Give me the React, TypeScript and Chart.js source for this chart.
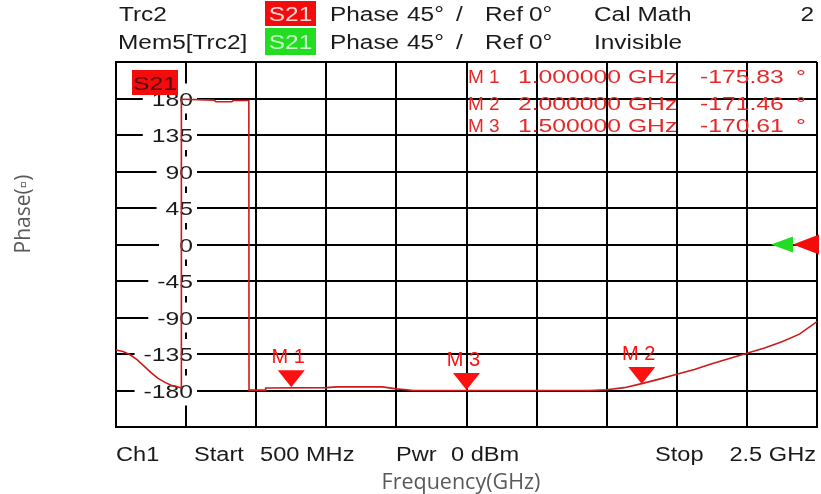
import React, { useEffect, useRef } from 'react';
import { Chart, registerables } from 'chart.js';

Chart.register(...registerables);

// ---------------- data ----------------
const freqGHz = [
  0.5, 0.52, 0.54, 0.56, 0.58, 0.6, 0.62, 0.64, 0.66, 0.68, 0.6855, 0.6865, 0.69,
  0.78, 0.785, 0.83, 0.835, 0.879, 0.8795, 0.926, 0.927, 1.1, 1.13, 1.26, 1.3,
  1.35, 1.5, 1.65, 1.8, 1.85, 1.9, 1.95, 2.0, 2.05, 2.1, 2.15, 2.2, 2.25, 2.3,
  2.35, 2.4, 2.45, 2.5,
];
const phaseDeg = [
  -130, -132, -136, -142, -150, -158, -165, -170, -174, -176, -177, 179, 179,
  178, 176, 176, 177.5, 177.5, -179.5, -179.5, -177, -176.5, -175.5, -175.5, -178,
  -180, -180, -180, -180, -180, -179, -176.5, -171.5, -166, -160, -154, -147, -140.5, -134,
  -127.5, -120, -110.5, -95,
];

const yTickLabels = [180, 135, 90, 45, 0, -45, -90, -135, -180];

const markerNames = ['M 1', 'M 2', 'M 3'];
const markerFreqGHz = [1.0, 2.0, 1.5];
const markerFreqText = ['1.000000 GHz', '2.000000 GHz', '1.500000 GHz'];
const markerReadoutDeg = ['-175.83', '-171.46', '-170.61'];
const markerTipDeg = [-176, -172, -179.5];

const refLevelDeg = 0;

const headerRow1 = ['Trc2', 'S21', 'Phase', '45°', '/', 'Ref', '0°', 'Cal Math', '2'];
const headerRow2 = ['Mem5[Trc2]', 'S21', 'Phase', '45°', '/', 'Ref', '0°', 'Invisible'];
const footerTexts = ['Ch1', 'Start', '500 MHz', 'Pwr', '0 dBm', 'Stop', '2.5 GHz'];
const yAxisTitle = 'Phase(▫)';
const xAxisTitle = 'Frequency(GHz)';

// ---------------- styles ----------------
const VNA_FONT = '"Liberation Sans", Arial, sans-serif';
const OUT_FONT = '"Open Sans", "Noto Sans", sans-serif';
const TRACE = '#cc1a1a';
const MARK = '#ff1010';
const READ = '#e62828';
const BOX_RED = '#f20c0c';
const BOX_GREEN = '#22dd22';
const INK = '#1a1a1a';
const HDR_SIZE = 20;
const HDR_SX = 1.22;

function txt(
  ctx: CanvasRenderingContext2D,
  text: string,
  x: number,
  y: number,
  size: number,
  color: string,
  align: 'left' | 'right' | 'center' = 'left',
  sx = 1,
  font = VNA_FONT,
) {
  ctx.save();
  ctx.font = `${size}px ${font}`;
  ctx.fillStyle = color;
  ctx.textBaseline = 'alphabetic';
  ctx.textAlign = 'left';
  const w = ctx.measureText(text).width * sx;
  let left = x;
  if (align === 'right') left = x - w;
  else if (align === 'center') left = x - w / 2;
  ctx.translate(left, y);
  ctx.scale(sx, 1);
  ctx.fillText(text, 0, 0);
  ctx.restore();
  return w;
}

const vnaPlugin = {
  id: 'vna',
  beforeDatasetsDraw(chart: any) {
    const ctx: CanvasRenderingContext2D = chart.ctx;
    const ys = chart.scales.y;
    const ca = chart.chartArea;
    const right = ca.left + 77;
    const boxRight = ca.left + 81;
    ctx.save();
    ctx.font = `19px ${VNA_FONT}`;
    for (const v of yTickLabels) {
      const py = ys.getPixelForValue(v);
      const label = String(v);
      const w = ctx.measureText(label).width * 1.3;
      const boxL = Math.min(right - w - 9, boxRight - 38);
      ctx.fillStyle = '#ffffff';
      ctx.fillRect(boxL, py - 15, boxRight - boxL, 30);
      txt(ctx, label, right, py + 7, 19, INK, 'right', 1.3);
    }
    ctx.restore();
  },
  afterDatasetsDraw(chart: any) {
    const ctx: CanvasRenderingContext2D = chart.ctx;
    const xs = chart.scales.x;
    const ys = chart.scales.y;
    const ca = chart.chartArea;
    ctx.save();
    // markers
    markerFreqGHz.forEach((f, i) => {
      const px = xs.getPixelForValue(f);
      const py = ys.getPixelForValue(markerTipDeg[i]);
      ctx.fillStyle = MARK;
      ctx.beginPath();
      ctx.moveTo(px - 13.5, py - 17);
      ctx.lineTo(px + 13.5, py - 17);
      ctx.lineTo(px, py);
      ctx.closePath();
      ctx.fill();
      txt(ctx, markerNames[i], px - 3, py - 24, 20, MARK, 'center');
    });
    // marker readout
    const rowY = [ca.top + 21, ca.top + 48, ca.top + 70];
    markerNames.forEach((n, i) => {
      txt(ctx, n, 468, rowY[i], 19, READ, 'left');
      txt(ctx, markerFreqText[i], 518, rowY[i], 19, READ, 'left', 1.3);
      txt(ctx, markerReadoutDeg[i], 700, rowY[i], 19, READ, 'left', 1.3);
      txt(ctx, '°', 796, rowY[i], 19, READ, 'left', 1.3);
    });
    // reference level arrows
    const ry = ys.getPixelForValue(refLevelDeg);
    ctx.fillStyle = BOX_GREEN;
    ctx.beginPath();
    ctx.moveTo(ca.right - 46, ry);
    ctx.lineTo(ca.right - 24, ry - 8);
    ctx.lineTo(ca.right - 24, ry + 8);
    ctx.closePath();
    ctx.fill();
    ctx.fillStyle = BOX_RED;
    ctx.beginPath();
    ctx.moveTo(ca.right - 24, ry);
    ctx.lineTo(ca.right + 2, ry - 10);
    ctx.lineTo(ca.right + 2, ry + 10);
    ctx.closePath();
    ctx.fill();
    // trace tag
    ctx.fillStyle = BOX_RED;
    ctx.fillRect(ca.left + 16, ca.top + 8, 46, 25);
    txt(ctx, 'S21', ca.left + 39, ca.top + 28, 19, '#5a0000', 'center', 1.3);
    ctx.restore();
  },
  afterDraw(chart: any) {
    const ctx: CanvasRenderingContext2D = chart.ctx;
    ctx.save();
    // header
    const b1 = 21;
    const b2 = 49;
    const H = HDR_SIZE;
    const S = HDR_SX;
    txt(ctx, headerRow1[0], 119, b1, H, INK, 'left', S);
    ctx.fillStyle = BOX_RED;
    ctx.fillRect(265, 1, 51, 25);
    txt(ctx, headerRow1[1], 290.5, b1, H, '#ffd6d6', 'center', S);
    txt(ctx, headerRow2[0], 118, b2, H, INK, 'left', S);
    ctx.fillStyle = BOX_GREEN;
    ctx.fillRect(265, 28, 51, 27);
    txt(ctx, headerRow2[1], 290.5, b2, H, '#c8ffc8', 'center', S);
    [[headerRow1, b1], [headerRow2, b2]].forEach(([row, b]: any) => {
      txt(ctx, row[2], 330, b, H, INK, 'left', S);
      txt(ctx, row[3], 407, b, H, INK, 'left', S);
      txt(ctx, row[4], 456, b, H, INK, 'left', S);
      txt(ctx, row[5], 485, b, H, INK, 'left', S);
      txt(ctx, row[6], 529, b, H, INK, 'left', S);
      txt(ctx, row[7], 594, b, H, INK, 'left', S);
    });
    txt(ctx, headerRow1[8], 814, b1, H, INK, 'right', S);
    // footer
    const fb = 461;
    txt(ctx, footerTexts[0], 116, fb, H, INK, 'left', 1.18);
    txt(ctx, footerTexts[1], 194, fb, H, INK, 'left', 1.18);
    txt(ctx, footerTexts[2], 260, fb, H, INK, 'left', 1.18);
    txt(ctx, footerTexts[3], 396, fb, H, INK, 'left', 1.18);
    txt(ctx, footerTexts[4], 451, fb, H, INK, 'left', 1.18);
    txt(ctx, footerTexts[5], 655, fb, H, INK, 'left', 1.18);
    txt(ctx, footerTexts[6], 816, fb, H, INK, 'right', 1.18);
    // outer axis titles
    txt(ctx, xAxisTitle, 461, 489, 21.5, '#595959', 'center', 1, OUT_FONT);
    ctx.save();
    ctx.translate(30, 214);
    ctx.rotate(-Math.PI / 2);
    txt(ctx, yAxisTitle, 0, 0, 21, '#595959', 'center', 1, OUT_FONT);
    ctx.restore();
    ctx.restore();
  },
};

export default function App() {
  const ref = useRef<HTMLCanvasElement>(null);
  useEffect(() => {
    const canvas = ref.current!;
    const gridOpts = { color: '#000000', lineWidth: 2, drawTicks: false };
    const chart = new Chart(canvas, {
      type: 'scatter',
      data: {
        datasets: [
          {
            data: freqGHz.map((f, i) => ({ x: f, y: phaseDeg[i] })),
            showLine: true,
            borderColor: TRACE,
            borderWidth: 1.6,
            pointRadius: 0,
            tension: 0,
            fill: false,
          },
        ],
      },
      options: {
        responsive: false,
        animation: false,
        devicePixelRatio: 1,
        events: [],
        layout: { padding: { left: 116, top: 62, right: 4, bottom: 67 } },
        plugins: { legend: { display: false }, tooltip: { enabled: false } },
        scales: {
          x: {
            type: 'linear',
            min: 0.5,
            max: 2.5,
            ticks: { display: false, stepSize: 0.2 },
            grid: gridOpts,
            border: { display: true, color: '#000000', width: 2 },
            afterFit: (s: any) => {
              s.height = 0;
            },
          },
          y: {
            type: 'linear',
            min: -225,
            max: 225,
            ticks: { display: false, stepSize: 45 },
            grid: gridOpts,
            border: { display: true, color: '#000000', width: 2 },
            afterFit: (s: any) => {
              s.width = 0;
            },
          },
        },
      } as any,
      plugins: [vnaPlugin],
    });
    return () => chart.destroy();
  }, []);
  return (
    <div style={{ position: 'absolute', left: 0, top: 0, width: 821, height: 494, background: '#fff' }}>
      <canvas ref={ref} width={821} height={494} style={{ display: 'block' }} />
    </div>
  );
}
